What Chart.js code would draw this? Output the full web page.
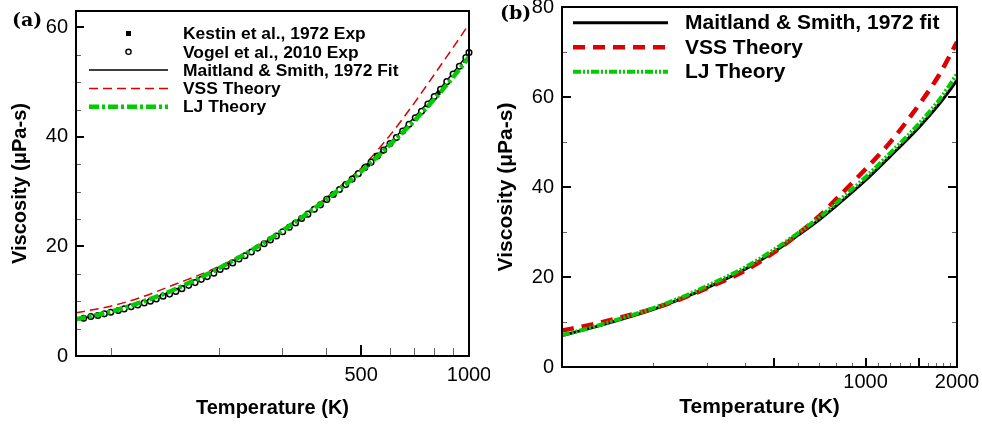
<!DOCTYPE html>
<html lang="en">
<head>
<meta charset="UTF-8">
<title>Viscosity vs Temperature</title>
<script src="https://cdn.jsdelivr.net/npm/chart.js"></script>
<style>
    body { margin: 0; background: #fff; }
    #wrap { position: relative; width: 982px; height: 426px; overflow: hidden; }
    .panel { position: absolute; top: 0; }
    .tag { position: absolute; font: bold 19px 'DejaVu Serif', serif; color: #000; line-height: 1; }
</style>
</head>
<body>
<div id="wrap">
    <canvas id="chartA" class="panel" width="490" height="426" style="left:0"></canvas>
    <canvas id="chartB" class="panel" width="492" height="426" style="left:490px"></canvas>
    <div class="tag" style="left:12px;top:10px">(a)</div>
    <div class="tag" style="left:500px;top:3px">(b)</div>
</div>
<script>
// ---- panel (a) data ----
const tempA = [80, 90, 100, 120, 150, 200, 250, 300, 350, 400, 450, 500, 600, 700, 800, 900, 1000];
const fitA  = [6.6, 7.3, 8.0, 9.6, 12.0, 15.9, 19.4, 22.7, 25.8, 28.7, 31.4, 34.0, 38.9, 43.4, 47.6, 51.6, 55.4];
const vssA  = [7.9, 8.5, 9.1, 10.6, 13.0, 16.3, 19.6, 22.8, 25.9, 28.9, 31.7, 34.3, 40.2, 46.0, 51.4, 56.2, 60.6];
const ljA   = [6.7, 7.4, 8.1, 9.7, 12.1, 16.0, 19.5, 22.8, 25.8, 28.6, 31.2, 33.7, 38.5, 42.8, 46.9, 50.8, 54.6];

const kestinT  = [298, 323, 348, 373, 398, 423, 473, 523, 573, 623, 673, 723, 773, 823, 873, 923, 973];
const kestinMu = [22.6, 24.1, 25.6, 27.0, 28.4, 29.8, 32.4, 34.9, 37.3, 39.6, 41.8, 43.9, 46.0, 48.0, 50.0, 52.0, 53.9];

const vogelT  = [84, 88, 92, 96, 100, 105, 109, 114, 119, 124, 129, 134, 140, 146, 152, 158, 165, 172, 179, 186,
                 194, 202, 210, 219, 228, 237, 247, 257, 268, 279, 290, 302, 315, 328, 341, 355, 370, 385, 401, 418,
                 435, 453, 472, 491, 512, 533, 555, 578, 602, 627, 653, 680, 708, 737, 768, 800, 833, 867, 903, 940,
                 980, 1000];
const vogelMu = [6.9, 7.2, 7.4, 7.7, 8.0, 8.3, 8.6, 9.0, 9.3, 9.7, 10.0, 10.4, 10.9, 11.3, 11.8, 12.3, 12.9, 13.4, 14.0, 14.5,
                 15.1, 15.8, 16.4, 17.0, 17.7, 18.3, 19.0, 19.7, 20.5, 21.2, 21.9, 22.7, 23.5, 24.3, 25.1, 25.9, 26.8, 27.6, 28.6, 29.5,
                 30.4, 31.3, 32.3, 33.3, 34.4, 35.4, 36.5, 37.6, 38.8, 39.9, 41.1, 42.3, 43.5, 44.7, 46.0, 47.4, 48.7, 50.1, 51.5, 52.9,
                 54.5, 55.4];

const xTicksA  = [100, 200, 300, 400, 500, 600, 700, 800, 900, 1000];
const xMajorA  = [500, 1000];
const xLabelsA = [500, 1000];
const yTicksA  = [0, 5, 10, 15, 20, 25, 30, 35, 40, 45, 50, 55, 60];
const yLabelsA = [0, 20, 40, 60];

// ---- panel (b) data ----
const tempB = [100, 125, 150, 200, 250, 300, 400, 500, 600, 700, 800, 1000, 1200, 1500, 1750, 2000];
const fitB  = [7.0, 8.7, 10.2, 12.8, 15.3, 17.6, 21.7, 25.6, 29.3, 32.6, 35.8, 41.5, 46.7, 53.3, 58.5, 63.7];
const vssB  = [8.1, 9.4, 10.7, 13.0, 15.3, 17.5, 21.4, 25.5, 29.6, 33.4, 37.3, 44.0, 49.8, 58.3, 65.0, 72.2];
const ljB   = [7.1, 8.8, 10.4, 13.1, 15.6, 18.0, 22.1, 26.1, 29.8, 33.1, 36.4, 42.2, 47.4, 54.1, 59.4, 65.1];

const xTicksB  = [200, 300, 400, 500, 600, 700, 800, 900, 1000, 1100, 1200, 1300, 1400, 1500, 1600, 1700, 1800, 1900, 2000];
const xMajorB  = [500, 1000, 1500, 2000];
const xLabelsB = [1000, 2000];
const yTicksB  = [0, 5, 10, 15, 20, 25, 30, 35, 40, 45, 50, 55, 60, 65, 70, 75, 80];
const yLabelsB = [0, 20, 40, 60, 80];

Chart.defaults.font.family = "'Liberation Sans', Arial, sans-serif";
Chart.defaults.color = '#000';

const pts = (xs, ys) => xs.map((x, i) => ({ x: x, y: ys[i] }));

// inward tick marks + box frame
const frameTicks = {
    id: 'frameTicks',
    afterDatasetsDraw(chart, args, o) {
        const { ctx, chartArea: a, scales: { x, y } } = chart;
        ctx.save();
        const mark = (x1, y1, x2, y2, major) => {
            ctx.lineWidth = major ? 2 : 1;
            ctx.strokeStyle = major ? '#000' : '#666';
            ctx.beginPath();
            ctx.moveTo(x1, y1);
            ctx.lineTo(x2, y2);
            ctx.stroke();
        };
        x.ticks.forEach(t => {
            const major = o.xMajor.includes(t.value);
            const p = Math.round(x.getPixelForValue(t.value)) + (major ? 0 : 0.5);
            mark(p, a.bottom, p, a.bottom - (major ? o.xMajorLen : o.xMinorLen), major);
        });
        y.ticks.forEach(t => {
            const major = o.yMajor.includes(t.value);
            const p = Math.round(y.getPixelForValue(t.value)) + (major ? 0 : 0.5);
            const len = major ? o.yMajorLen : o.yMinorLen;
            mark(a.left, p, a.left + len, p, major);
            if (o.rightTicks) mark(a.right, p, a.right - len, p, major);
        });
        ctx.lineWidth = 2;
        ctx.strokeStyle = '#000';
        ctx.strokeRect(a.left, a.top, a.right - a.left, a.bottom - a.top);
        ctx.restore();
    }
};

// legend drawn inside the plot area
const boxLegend = {
    id: 'boxLegend',
    afterDraw(chart, args, o) {
        const ctx = chart.ctx;
        ctx.save();
        ctx.font = 'bold ' + o.size + "px 'Liberation Sans', Arial, sans-serif";
        ctx.textBaseline = 'middle';
        o.rows.forEach((idx, i) => {
            const ds = chart.data.datasets[idx];
            const yy = o.top + i * o.step;
            if (ds.showLine) {
                ctx.strokeStyle = ds.borderColor;
                ctx.lineWidth = ds.borderWidth;
                ctx.setLineDash(ds.borderDash || []);
                ctx.beginPath();
                ctx.moveTo(o.x0, yy);
                ctx.lineTo(o.x1, yy);
                ctx.stroke();
                ctx.setLineDash([]);
            } else {
                const cx = (o.x0 + o.x1) / 2;
                if (ds.pointStyle === 'rect') {
                    ctx.fillStyle = '#000';
                    ctx.fillRect(cx - 2.5, yy - 2.5, 5, 5);
                } else {
                    ctx.beginPath();
                    ctx.arc(cx, yy, 2.6, 0, Math.PI * 2);
                    ctx.fillStyle = '#fff';
                    ctx.fill();
                    ctx.lineWidth = 1.4;
                    ctx.strokeStyle = '#000';
                    ctx.stroke();
                }
            }
            ctx.fillStyle = '#000';
            ctx.fillText(ds.label, o.textX, yy + 1);
        });
        ctx.restore();
    }
};

function makeScales(c) {
    return {
        x: {
            type: 'logarithmic', min: c.xMin, max: c.xMax,
            afterBuildTicks: s => { s.ticks = c.xTicks.map(v => ({ value: v })); },
            afterFit: s => { s.height = c.xHeight; s.paddingLeft = 0; s.paddingRight = 0; },
            grid: { display: false, drawTicks: false },
            border: { display: false },
            ticks: {
                autoSkip: false, maxRotation: 0, padding: c.xPad, font: { size: 20 },
                callback: v => c.xLabels.includes(v) ? String(v) : ''
            },
            title: { display: true, text: 'Temperature (K)', font: { size: c.titleSize, weight: 'bold' }, padding: { top: 0, bottom: 6 } }
        },
        y: {
            type: 'linear', min: 0, max: c.yMax,
            afterBuildTicks: s => { s.ticks = c.yTicks.map(v => ({ value: v })); },
            afterFit: s => { s.width = c.yWidth; s.paddingTop = 0; s.paddingBottom = 0; },
            grid: { display: false, drawTicks: false },
            border: { display: false },
            ticks: {
                padding: 8, font: { size: 20 },
                callback: v => c.yLabels.includes(v) ? String(v) : ''
            },
            title: { display: true, text: 'Viscosity (\u03bcPa-s)', font: { size: c.titleSize, weight: 'bold' }, padding: { top: c.yTitlePad, bottom: 0 } }
        }
    };
}

// ---- chart (a) ----
new Chart(document.getElementById('chartA'), {
    type: 'scatter',
    data: {
        datasets: [
            { label: 'LJ Theory', data: pts(tempA, ljA), showLine: true, pointRadius: 0, borderColor: '#00cc00',
              borderWidth: 4.5, borderDash: [10, 3, 3, 3], cubicInterpolationMode: 'monotone' },
            { label: 'Vogel et al., 2010 Exp', data: pts(vogelT, vogelMu), showLine: false, pointStyle: 'circle',
              pointRadius: 2.8, borderWidth: 1.5, borderColor: '#000', backgroundColor: '#fff', clip: false },
            { label: 'Kestin et al., 1972 Exp', data: pts(kestinT, kestinMu), showLine: false, pointStyle: 'rect',
              pointRadius: 2.6, borderWidth: 0, borderColor: '#000', backgroundColor: '#000', clip: false },
            { label: 'VSS Theory', data: pts(tempA, vssA), showLine: true, pointRadius: 0, borderColor: '#e00000',
              borderWidth: 1.5, borderDash: [9, 5], cubicInterpolationMode: 'monotone' },
            { label: 'Maitland & Smith, 1972 Fit', data: pts(tempA, fitA), showLine: true, pointRadius: 0, borderColor: '#000',
              borderWidth: 1.5, cubicInterpolationMode: 'monotone' }
        ]
    },
    options: {
        responsive: false, animation: false, devicePixelRatio: 1, events: [],
        layout: { padding: { left: 0, top: 11, right: 21, bottom: 0 } },
        scales: makeScales({ xMin: 80, xMax: 1000, xTicks: xTicksA, xLabels: xLabelsA, xHeight: 70, xPad: 7,
                             yMax: 63, yTicks: yTicksA, yLabels: yLabelsA, yWidth: 76, yTitlePad: 8, titleSize: 20 }),
        plugins: {
            legend: { display: false },
            tooltip: { enabled: false },
            frameTicks: { xMajor: xMajorA, yMajor: yLabelsA, xMajorLen: 11, xMinorLen: 8, yMajorLen: 8, yMinorLen: 5, rightTicks: false },
            boxLegend: { rows: [2, 1, 4, 3, 0], top: 33.5, step: 18.3, x0: 89, x1: 168, textX: 183, size: 17.4 }
        }
    },
    plugins: [frameTicks, boxLegend]
});

// ---- chart (b) ----
new Chart(document.getElementById('chartB'), {
    type: 'scatter',
    data: {
        datasets: [
            { label: 'LJ Theory', data: pts(tempB, ljB), showLine: true, pointRadius: 0, borderColor: '#00cc00',
              borderWidth: 4, borderDash: [8, 2, 2, 2, 2, 2], cubicInterpolationMode: 'monotone' },
            { label: 'VSS Theory', data: pts(tempB, vssB), showLine: true, pointRadius: 0, borderColor: '#dd0000',
              borderWidth: 4.5, borderDash: [12, 8], cubicInterpolationMode: 'monotone' },
            { label: 'Maitland & Smith, 1972 fit', data: pts(tempB, fitB), showLine: true, pointRadius: 0, borderColor: '#000',
              borderWidth: 3, cubicInterpolationMode: 'monotone' }
        ]
    },
    options: {
        responsive: false, animation: false, devicePixelRatio: 1, events: [],
        layout: { padding: { left: 0, top: 7, right: 25, bottom: 0 } },
        scales: makeScales({ xMin: 100, xMax: 2000, xTicks: xTicksB, xLabels: xLabelsB, xHeight: 59, xPad: 3,
                             yMax: 80, yTicks: yTicksB, yLabels: yLabelsB, yWidth: 72, yTitlePad: 4, titleSize: 21 }),
        plugins: {
            legend: { display: false },
            tooltip: { enabled: false },
            frameTicks: { xMajor: xMajorB, yMajor: yLabelsB, xMajorLen: 9, xMinorLen: 4, yMajorLen: 9, yMinorLen: 5, rightTicks: true },
            boxLegend: { rows: [2, 1, 0], top: 22.7, step: 24.5, x0: 83, x1: 178, textX: 195, size: 21 }
        }
    },
    plugins: [frameTicks, boxLegend]
});
</script>
</body>
</html>
